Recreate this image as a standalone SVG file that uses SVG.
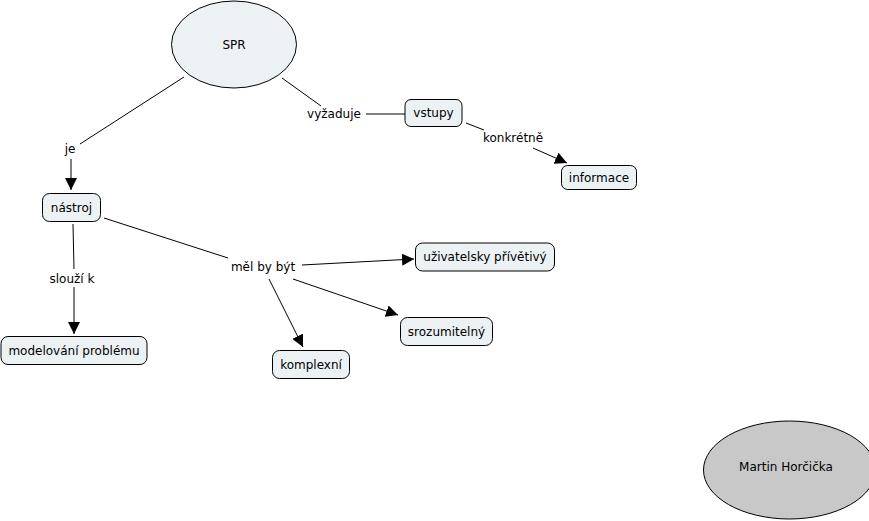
<svg xmlns="http://www.w3.org/2000/svg" width="869" height="521" viewBox="0 0 869 521">
<style>
text{font-family:"DejaVu Sans","Verdana",sans-serif;font-size:12px;fill:#000;text-anchor:middle;dominant-baseline:central}
.box{fill:#ecf2f4;stroke:#000;stroke-width:1}
.ln{stroke:#000;stroke-width:1;fill:none}
.ar{stroke:#000;stroke-width:1;fill:none;marker-end:url(#ah)}
</style>
<defs>
<marker id="ah" viewBox="0 0 10 10" refX="10" refY="5" markerWidth="12" markerHeight="12" markerUnits="userSpaceOnUse" orient="auto">
<path d="M0,0 L10,5 L0,10 Z" fill="#000"/>
</marker>
</defs>
<rect width="869" height="521" fill="#fff"/>
<g id="connectors">
<line class="ln" x1="184" y1="77" x2="80" y2="144"/>
<line class="ar" x1="71" y1="159" x2="71" y2="190"/>
<line class="ln" x1="282" y1="78" x2="321" y2="106"/>
<line class="ln" x1="366" y1="114" x2="405" y2="114"/>
<line class="ln" x1="466" y1="123" x2="484" y2="130"/>
<line class="ar" x1="533" y1="148" x2="567" y2="163"/>
<line class="ln" x1="73" y1="224" x2="74" y2="269"/>
<line class="ar" x1="74" y1="287" x2="74" y2="334"/>
<line class="ln" x1="104" y1="218" x2="228" y2="258"/>
<line class="ar" x1="302" y1="265" x2="414" y2="259"/>
<line class="ar" x1="293" y1="279" x2="398" y2="315"/>
<line class="ar" x1="269" y1="279" x2="303" y2="347"/>
</g>
<g id="label-je"><text x="70" y="149">je</text></g>
<g id="label-vyzaduje"><text x="334" y="114">vyžaduje</text></g>
<g id="label-konkretne"><text x="513" y="138">konkrétně</text></g>
<g id="label-slouzi"><text x="72" y="279">slouží k</text></g>
<g id="label-melbybyt"><text x="263" y="267">měl by být</text></g>
<g id="node-spr"><ellipse class="box" cx="234" cy="44.5" rx="62.5" ry="43.5"/><text x="234" y="45">SPR</text></g>
<g id="node-vstupy"><rect class="box" x="405" y="99.5" width="57" height="27" rx="6"/><text x="433.5" y="113">vstupy</text></g>
<g id="node-informace"><rect class="box" x="561.5" y="165.5" width="75" height="24" rx="6"/><text x="599" y="177.5">informace</text></g>
<g id="node-nastroj"><rect class="box" x="42.5" y="193.5" width="58" height="28" rx="7"/><text x="71.5" y="207.5">nástroj</text></g>
<g id="node-modelovani"><rect class="box" x="1" y="336.5" width="146" height="28" rx="7"/><text x="74" y="350.5">modelování problému</text></g>
<g id="node-uzivatelsky"><rect class="box" x="415.5" y="243" width="139" height="28" rx="7"/><text x="485" y="257">uživatelsky přívětivý</text></g>
<g id="node-srozumitelny"><rect class="box" x="400.5" y="317.5" width="92" height="28" rx="7"/><text x="446.5" y="331.5">srozumitelný</text></g>
<g id="node-komplexni"><rect class="box" x="272.5" y="350.5" width="77" height="28" rx="7"/><text x="311" y="364.5">komplexní</text></g>
<g id="node-martin"><ellipse cx="789.5" cy="470" rx="86" ry="49" fill="#c8c8c8" stroke="#000"/><text x="786" y="467">Martin Horčička</text></g>
</svg>
